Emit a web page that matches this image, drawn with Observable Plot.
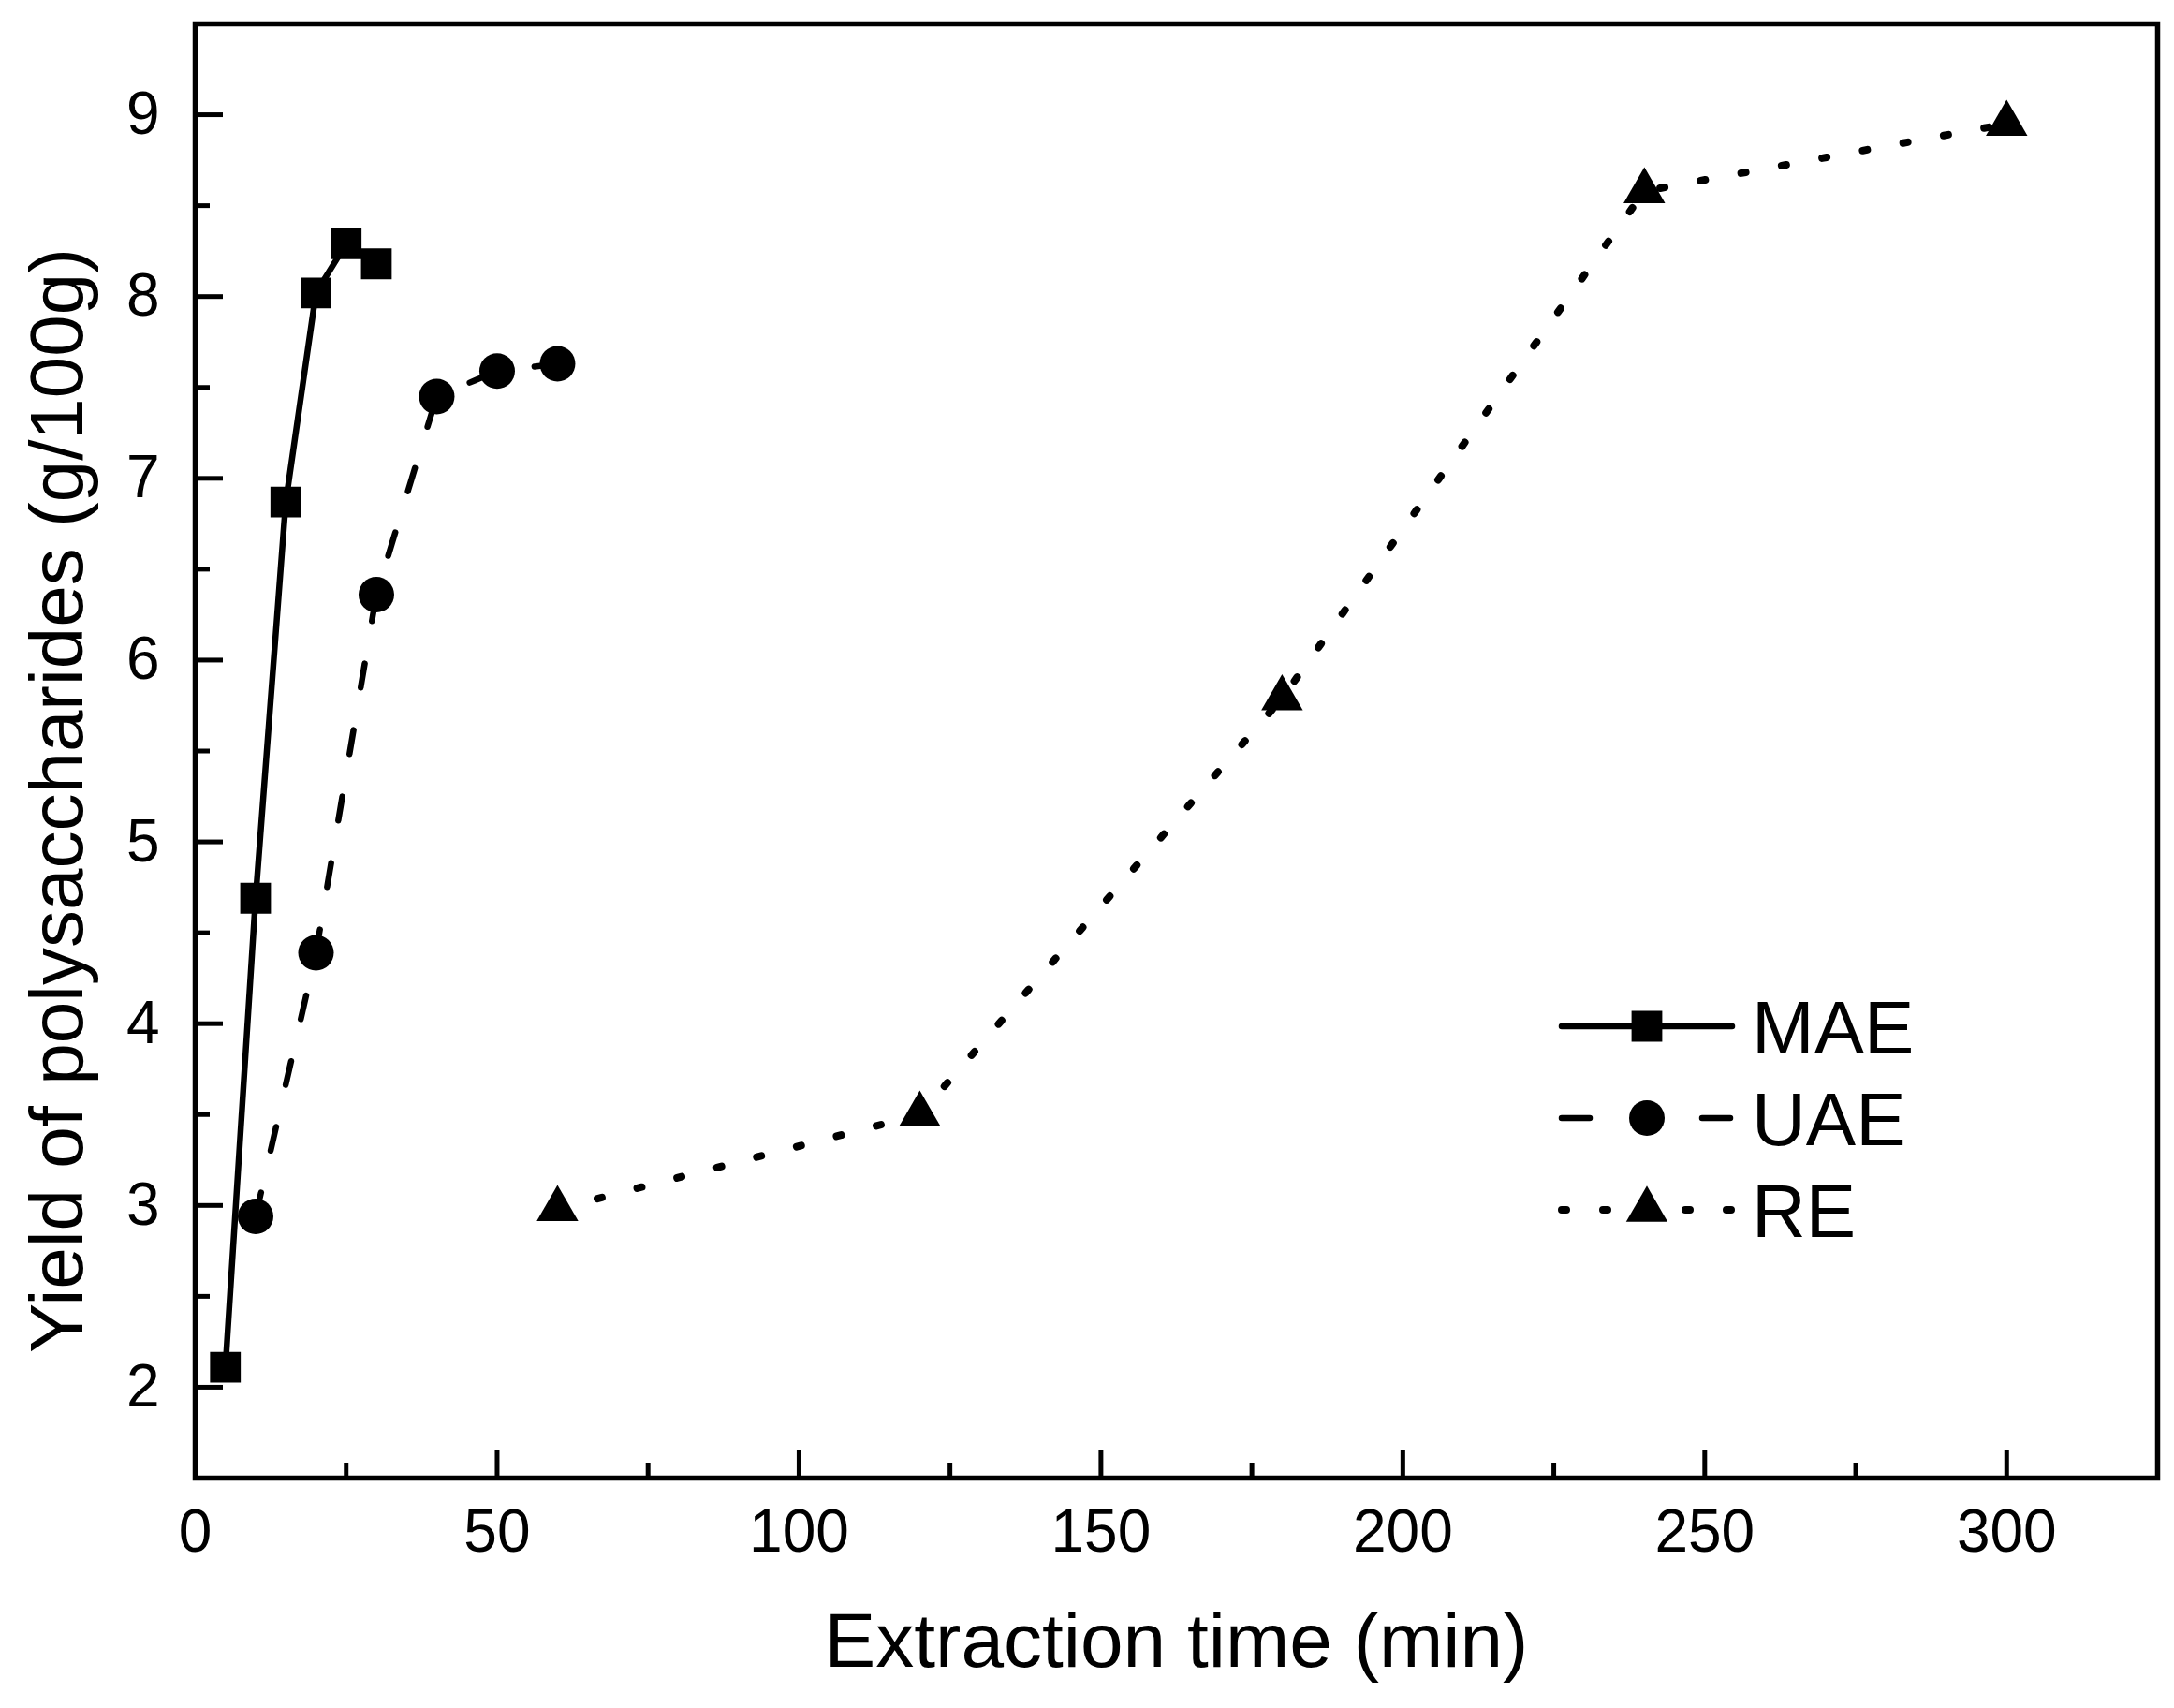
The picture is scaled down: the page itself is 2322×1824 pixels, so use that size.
<!DOCTYPE html>
<html>
<head>
<meta charset="utf-8">
<script src="https://cdn.jsdelivr.net/npm/d3@7"></script>
<script src="https://cdn.jsdelivr.net/npm/@observablehq/plot@0.6"></script>
<style>
  body { margin: 0; background: #fff; }
  #chart { position: relative; width: 2322px; height: 1824px; }
  #legend { position: absolute; left: 0; top: 0; }
</style>
</head>
<body>
<div id="chart"></div>
<script>
// valores
const maeTime = [5, 10, 15, 20, 25, 30];
const maeYield = [2.11, 4.69, 6.87, 8.02, 8.29, 8.18];
const uaeTime = [10, 20, 30, 40, 50, 60];
const uaeYield = [2.94, 4.39, 6.36, 7.45, 7.59, 7.63];
const reTime = [60, 120, 180, 240, 300];
const reYield = [2.98, 3.50, 5.79, 8.58, 8.95];

const xMajor = [0, 50, 100, 150, 200, 250, 300];
const xMinor = [25, 75, 125, 175, 225, 275];
const yMajor = [2, 3, 4, 5, 6, 7, 8, 9];
const yMinor = [2.5, 3.5, 4.5, 5.5, 6.5, 7.5, 8.5];

const xTitle = "Extraction time (min)";
const yTitle = "Yield of polysaccharides (g/100g)";

const font = "'Liberation Sans', Arial, sans-serif";

const series = [
  { name: "MAE", time: maeTime, yield: maeYield, symbol: "square", r: 18.5, width: 6.5, dash: null, legendDash: null },
  { name: "UAE", time: uaeTime, yield: uaeYield, symbol: "circle", r: 19, width: 6.5, dash: "26,46", legendDash: "30,120" },
  { name: "RE", time: reTime, yield: reYield, symbol: "triangle", r: 16.5, width: 8, dash: "5,39", legendDash: "5,39" }
];

const rows = s => s.time.map((t, i) => ({ method: s.name, time: t, yield: s.yield[i] }));

const lineMarks = series.map(s => Plot.line(rows(s), {
  x: "time", y: "yield",
  stroke: "#000", strokeWidth: s.width,
  strokeDasharray: s.dash, strokeLinecap: "round",
  curve: "linear"
}));
const dotMarks = series.map(s => Plot.dot(rows(s), {
  x: "time", y: "yield",
  symbol: s.symbol, r: s.r, fill: "#000", stroke: "none"
}));

const chart = Plot.plot({
  width: 2322,
  height: 1824,
  marginLeft: 208,
  marginRight: 18,
  marginTop: 25,
  marginBottom: 246,
  style: { fontFamily: font, background: "#fff", color: "#000" },
  x: { domain: [0, 325] },
  y: { domain: [1.5, 9.5] },
  marks: [
    ...lineMarks,
    ...dotMarks,
    Plot.frame({ stroke: "#000", strokeWidth: 5.5 }),
    // ticks hacia adentro
    Plot.axisX(xMajor, { tickSize: -30, strokeWidth: 5, fill: "none", label: null }),
    Plot.axisX(xMinor, { tickSize: -16, strokeWidth: 5, fill: "none", label: null }),
    Plot.axisY(yMajor, { tickSize: -30, strokeWidth: 5, fill: "none", label: null }),
    Plot.axisY(yMinor, { tickSize: -16, strokeWidth: 5, fill: "none", label: null }),
    Plot.axisX(xMajor, { tickSize: 0, tickPadding: 33, fontSize: 64, tickFormat: d => String(d), label: null }),
    Plot.axisY(yMajor, { tickSize: 0, tickPadding: 38, fontSize: 64, tickFormat: d => String(d), label: null }),
    Plot.text([xTitle], { frameAnchor: "bottom", dy: 201, fontSize: 82, text: d => d, fill: "#000" }),
    Plot.text([yTitle], { frameAnchor: "left", textAnchor: "middle", dx: -146, dy: 53, rotate: -90, fontSize: 80, text: d => d, fill: "#000" })
  ]
});

d3.select("#chart").append(() => chart);

// leyenda dentro del area del grafico
const legend = d3.select("#chart").append("svg")
  .attr("id", "legend")
  .attr("width", 2322)
  .attr("height", 1824);

const lg = legend.append("g").attr("transform", "translate(1668,1096)");
const symbols = { square: d3.symbolSquare, circle: d3.symbolCircle, triangle: d3.symbolTriangle };

series.forEach((s, i) => {
  const row = lg.append("g").attr("transform", `translate(0,${i * 98})`);
  row.append("line")
    .attr("x1", 0).attr("x2", 182).attr("y1", 0).attr("y2", 0)
    .attr("stroke", "#000").attr("stroke-width", s.width)
    .attr("stroke-linecap", "round")
    .attr("stroke-dasharray", s.legendDash);
  row.append("path")
    .attr("transform", "translate(91,0)")
    .attr("d", d3.symbol(symbols[s.symbol], Math.PI * s.r * s.r)())
    .attr("fill", "#000");
  row.append("text")
    .attr("x", 203).attr("y", 0)
    .attr("dy", "0.36em")
    .attr("font-family", font)
    .attr("font-size", 80)
    .attr("fill", "#000")
    .text(s.name);
});
</script>
</body>
</html>
